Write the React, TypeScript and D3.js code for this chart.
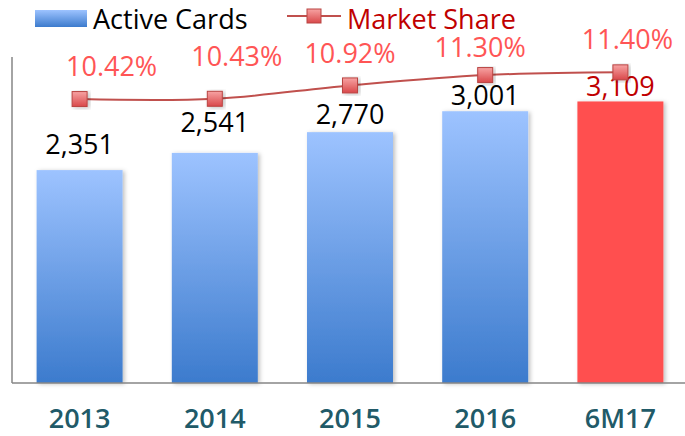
import React from 'react';
import * as d3 from 'd3';

const categories = ['2013', '2014', '2015', '2016', '6M17'];
const activeCards = [2351, 2541, 2770, 3001, 3109];
const marketShare = [10.42, 10.43, 10.92, 11.3, 11.4];

// hand placement of the value labels (baseline gap above the mark)
const cardLabelGap = [16, 21, 8, 6, 5];
const shareLabelDx = [32, 22, 0, -5, 7];
const shareLabelGap = [23.5, 33, 22, 18.5, 23.5];

const width = 685;
const height = 436;
const baseY = 383;
const axisX = 12;
const font = '"Open Sans", Lato, sans-serif';

const App: React.FC = () => {
  const x = d3.scaleBand<string>()
    .domain(categories)
    .range([12, 688])
    .paddingInner(0.364)
    .paddingOuter(0.182);

  const y = d3.scaleLinear().domain([0, 3600]).range([baseY, 57]);
  const y2 = d3.scaleLinear().domain([10, 12]).range([110.5, 56]);

  const cx = (c: string) => x(c)! + x.bandwidth() / 2;

  const linePath = d3.line<number>()
    .x((_, i) => cx(categories[i]))
    .y((d) => y2(d))
    .curve(d3.curveCatmullRom.alpha(0.5))(marketShare);

  const fmt = d3.format(',');
  const last = categories.length - 1;

  return (
    <div style={{ position: 'absolute', left: 0, top: 0 }}>
      <svg width={width} height={height} style={{ display: 'block', background: '#fff' }}>
        <defs>
          <linearGradient id="barBlue" x1="0" y1="0" x2="0" y2="1">
            <stop offset="0%" stopColor="#9DC3FF" />
            <stop offset="100%" stopColor="#3C7BCD" />
          </linearGradient>
          <linearGradient id="mark" x1="0" y1="0" x2="0" y2="1">
            <stop offset="0%" stopColor="#F7A3A3" />
            <stop offset="100%" stopColor="#D9484A" />
          </linearGradient>
          <filter id="shadow" x="-10%" y="-10%" width="130%" height="130%">
            <feDropShadow dx="2" dy="1" stdDeviation="2" floodColor="#000" floodOpacity="0.25" />
          </filter>
        </defs>

        {/* bars */}
        {categories.map((c, i) => (
          <rect
            key={c}
            x={x(c)}
            y={y(activeCards[i])}
            width={x.bandwidth()}
            height={baseY - y(activeCards[i])}
            fill={i === last ? '#FF5050' : 'url(#barBlue)'}
            filter="url(#shadow)"
          />
        ))}

        {/* axes */}
        <line x1={axisX} x2={axisX} y1={57} y2={baseY} stroke="#868686" strokeWidth={1.5} />
        <line x1={axisX} x2={width} y1={baseY} y2={baseY} stroke="#868686" strokeWidth={1.5} />

        {/* bar value labels */}
        {categories.map((c, i) => (
          <text
            key={c}
            x={cx(c)}
            y={y(activeCards[i]) - cardLabelGap[i]}
            textAnchor="middle"
            fontFamily={font}
            fontSize={27}
            fill={i === last ? '#C00000' : '#000'}
          >
            {fmt(activeCards[i])}
          </text>
        ))}

        {/* market share line */}
        <path d={linePath ?? ''} fill="none" stroke="#C0504D" strokeWidth={2} />
        {categories.map((c, i) => (
          <rect
            key={c}
            x={cx(c) - 7.5}
            y={y2(marketShare[i]) - 7.5}
            width={15}
            height={15}
            fill="url(#mark)"
            stroke="#B94442"
            strokeWidth={1}
            filter="url(#shadow)"
          />
        ))}
        {categories.map((c, i) => (
          <text
            key={c}
            x={cx(c) + shareLabelDx[i]}
            y={y2(marketShare[i]) - shareLabelGap[i]}
            textAnchor="middle"
            fontFamily={font}
            fontSize={27}
            fill="#FF5555"
          >
            {marketShare[i].toFixed(2)}%
          </text>
        ))}

        {/* category labels */}
        {categories.map((c) => (
          <text
            key={c}
            x={cx(c)}
            y={428}
            textAnchor="middle"
            fontFamily={font}
            fontSize={27}
            fontWeight={600}
            fill="#215A68"
          >
            {c}
          </text>
        ))}

        {/* legend */}
        <rect x={35} y={10} width={52} height={17} fill="url(#barBlue)" />
        <text x={93} y={29} fontFamily={font} fontSize={27} fill="#000">Active Cards</text>
        <line x1={287} x2={341} y1={16} y2={16} stroke="#C0504D" strokeWidth={2} />
        <rect x={307} y={9} width={14} height={14} fill="url(#mark)" stroke="#B94442" strokeWidth={1} />
        <text x={347} y={29} fontFamily={font} fontSize={27} fill="#C00000">Market Share</text>
      </svg>
    </div>
  );
};

export default App;
